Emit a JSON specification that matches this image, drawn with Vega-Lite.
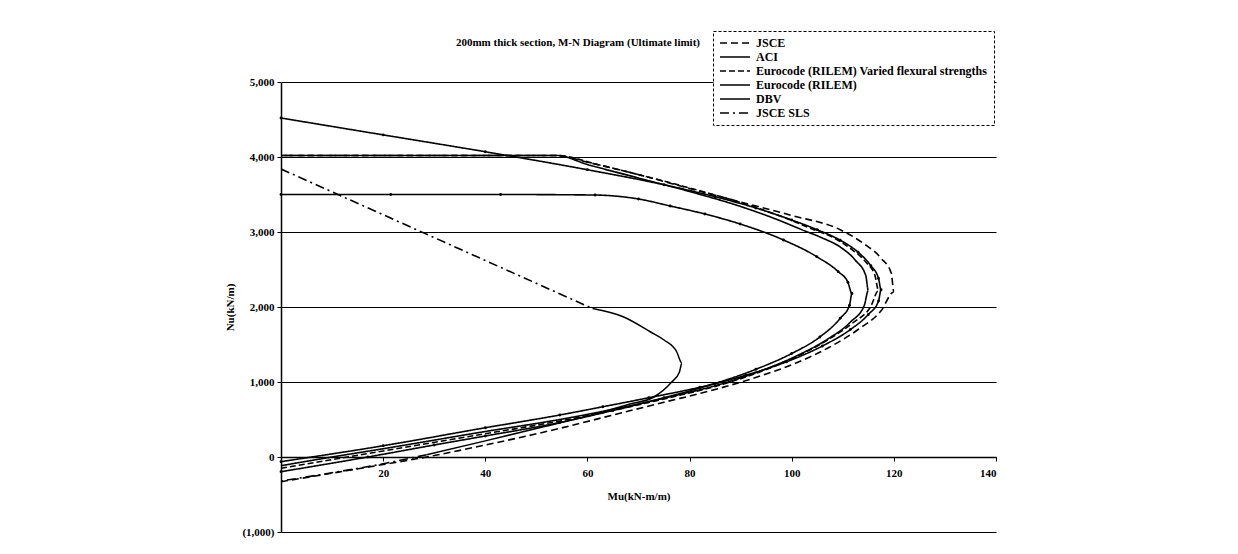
{
  "$schema": "https://vega.github.io/schema/vega-lite/v6.json",
  "autosize": "none",
  "width": 715,
  "height": 450,
  "padding": {"left": 281, "top": 82, "right": 242, "bottom": 22},
  "background": "white",
  "title": {"text": "200mm thick section, M-N Diagram (Ultimate limit)", "anchor": "start", "dx": 231, "offset": 0, "dy": 17, "font": "Liberation Serif", "fontSize": 11, "fontWeight": "bold", "color": "black"},
  "config": {"view": {"stroke": null}, "font": "Liberation Serif"},
  "data": {"values": [
    {"s":"JSCE","p":"JSCE","i":0,"M":0,"N":-330},{"s":"JSCE","p":"JSCE","i":1,"M":10,"N":-215},{"s":"JSCE","p":"JSCE","i":2,"M":20,"N":-100},{"s":"JSCE","p":"JSCE","i":3,"M":28.5,"N":0},{"s":"JSCE","p":"JSCE","i":4,"M":40,"N":160},{"s":"JSCE","p":"JSCE","i":5,"M":54.6,"N":382},{"s":"JSCE","p":"JSCE","i":6,"M":65,"N":560},{"s":"JSCE","p":"JSCE","i":7,"M":75,"N":730},{"s":"JSCE","p":"JSCE","i":8,"M":85,"N":900},{"s":"JSCE","p":"JSCE","i":9,"M":92,"N":1040},{"s":"JSCE","p":"JSCE","i":10,"M":100,"N":1230},{"s":"JSCE","p":"JSCE","i":11,"M":107,"N":1450},{"s":"JSCE","p":"JSCE","i":12,"M":113,"N":1700},{"s":"JSCE","p":"JSCE","i":13,"M":117.5,"N":1950},{"s":"JSCE","p":"JSCE","i":14,"M":120,"N":2200},{"s":"JSCE","p":"JSCE","i":15,"M":119.5,"N":2450},{"s":"JSCE","p":"JSCE","i":16,"M":117.5,"N":2650},{"s":"JSCE","p":"JSCE","i":17,"M":114,"N":2850},{"s":"JSCE","p":"JSCE","i":18,"M":109.5,"N":3030},{"s":"JSCE","p":"JSCE","i":19,"M":100,"N":3220},{"s":"JSCE","p":"JSCE","i":20,"M":90,"N":3400},{"s":"JSCE","p":"JSCE","i":21,"M":80,"N":3580},{"s":"JSCE","p":"JSCE","i":22,"M":70.3,"N":3760},{"s":"JSCE","p":"JSCE","i":23,"M":60,"N":3930},{"s":"JSCE","p":"JSCE","i":24,"M":54,"N":4020},{"s":"JSCE","p":"JSCE","i":25,"M":0,"N":4020},

    {"s":"ACI","p":"ACI","i":0,"M":0,"N":-196},{"s":"ACI","p":"ACI","i":1,"M":17,"N":0},{"s":"ACI","p":"ACI","i":2,"M":30,"N":160},{"s":"ACI","p":"ACI","i":3,"M":40,"N":280},{"s":"ACI","p":"ACI","i":4,"M":54.6,"N":460},{"s":"ACI","p":"ACI","i":5,"M":65,"N":620},{"s":"ACI","p":"ACI","i":6,"M":75,"N":790},{"s":"ACI","p":"ACI","i":7,"M":85,"N":980},{"s":"ACI","p":"ACI","i":8,"M":93,"N":1170},{"s":"ACI","p":"ACI","i":9,"M":100,"N":1380},{"s":"ACI","p":"ACI","i":10,"M":105.5,"N":1600},{"s":"ACI","p":"ACI","i":11,"M":109.5,"N":1850},{"s":"ACI","p":"ACI","i":12,"M":111.3,"N":2020},{"s":"ACI","p":"ACI","i":13,"M":111.8,"N":2180},{"s":"ACI","p":"ACI","i":14,"M":111,"N":2330},{"s":"ACI","p":"ACI","i":15,"M":109.1,"N":2471},{"s":"ACI","p":"ACI","i":16,"M":104.9,"N":2671},{"s":"ACI","p":"ACI","i":17,"M":98.4,"N":2893},{"s":"ACI","p":"ACI","i":18,"M":89.9,"N":3107},{"s":"ACI","p":"ACI","i":19,"M":83,"N":3240},{"s":"ACI","p":"ACI","i":20,"M":76.2,"N":3347},{"s":"ACI","p":"ACI","i":21,"M":70,"N":3440},{"s":"ACI","p":"ACI","i":22,"M":61.5,"N":3493},{"s":"ACI","p":"ACI","i":23,"M":43,"N":3500},{"s":"ACI","p":"ACI","i":24,"M":21.5,"N":3500},{"s":"ACI","p":"ACI","i":25,"M":0,"N":3500},

    {"s":"Eurocode (RILEM) Varied flexural strengths","p":"EV","i":0,"M":0,"N":-151},{"s":"Eurocode (RILEM) Varied flexural strengths","p":"EV","i":1,"M":13,"N":0},{"s":"Eurocode (RILEM) Varied flexural strengths","p":"EV","i":2,"M":20,"N":80},{"s":"Eurocode (RILEM) Varied flexural strengths","p":"EV","i":3,"M":40,"N":310},{"s":"Eurocode (RILEM) Varied flexural strengths","p":"EV","i":4,"M":54.6,"N":480},{"s":"Eurocode (RILEM) Varied flexural strengths","p":"EV","i":5,"M":66,"N":635},{"s":"Eurocode (RILEM) Varied flexural strengths","p":"EV","i":6,"M":76,"N":790},{"s":"Eurocode (RILEM) Varied flexural strengths","p":"EV","i":7,"M":86,"N":960},{"s":"Eurocode (RILEM) Varied flexural strengths","p":"EV","i":8,"M":94,"N":1140},{"s":"Eurocode (RILEM) Varied flexural strengths","p":"EV","i":9,"M":101,"N":1340},{"s":"Eurocode (RILEM) Varied flexural strengths","p":"EV","i":10,"M":107,"N":1560},{"s":"Eurocode (RILEM) Varied flexural strengths","p":"EV","i":11,"M":112,"N":1790},{"s":"Eurocode (RILEM) Varied flexural strengths","p":"EV","i":12,"M":115.5,"N":2010},{"s":"Eurocode (RILEM) Varied flexural strengths","p":"EV","i":13,"M":117,"N":2220},{"s":"Eurocode (RILEM) Varied flexural strengths","p":"EV","i":14,"M":116.3,"N":2420},{"s":"Eurocode (RILEM) Varied flexural strengths","p":"EV","i":15,"M":114.5,"N":2600},{"s":"Eurocode (RILEM) Varied flexural strengths","p":"EV","i":16,"M":111.5,"N":2780},{"s":"Eurocode (RILEM) Varied flexural strengths","p":"EV","i":17,"M":108,"N":2930},{"s":"Eurocode (RILEM) Varied flexural strengths","p":"EV","i":18,"M":104,"N":3040},{"s":"Eurocode (RILEM) Varied flexural strengths","p":"EV","i":19,"M":99,"N":3180},{"s":"Eurocode (RILEM) Varied flexural strengths","p":"EV","i":20,"M":92,"N":3350},{"s":"Eurocode (RILEM) Varied flexural strengths","p":"EV","i":21,"M":82,"N":3550},{"s":"Eurocode (RILEM) Varied flexural strengths","p":"EV","i":22,"M":72,"N":3730},{"s":"Eurocode (RILEM) Varied flexural strengths","p":"EV","i":23,"M":62,"N":3900},{"s":"Eurocode (RILEM) Varied flexural strengths","p":"EV","i":24,"M":54,"N":4020},{"s":"Eurocode (RILEM) Varied flexural strengths","p":"EV","i":25,"M":0,"N":4020},

    {"s":"Eurocode (RILEM)","p":"EU","i":0,"M":0,"N":-116},{"s":"Eurocode (RILEM)","p":"EU","i":1,"M":10,"N":0},{"s":"Eurocode (RILEM)","p":"EU","i":2,"M":20,"N":110},{"s":"Eurocode (RILEM)","p":"EU","i":3,"M":40,"N":340},{"s":"Eurocode (RILEM)","p":"EU","i":4,"M":54.6,"N":500},{"s":"Eurocode (RILEM)","p":"EU","i":5,"M":66,"N":650},{"s":"Eurocode (RILEM)","p":"EU","i":6,"M":76,"N":800},{"s":"Eurocode (RILEM)","p":"EU","i":7,"M":86,"N":970},{"s":"Eurocode (RILEM)","p":"EU","i":8,"M":94,"N":1150},{"s":"Eurocode (RILEM)","p":"EU","i":9,"M":101,"N":1350},{"s":"Eurocode (RILEM)","p":"EU","i":10,"M":107,"N":1570},{"s":"Eurocode (RILEM)","p":"EU","i":11,"M":111.5,"N":1800},{"s":"Eurocode (RILEM)","p":"EU","i":12,"M":114.2,"N":2020},{"s":"Eurocode (RILEM)","p":"EU","i":13,"M":115,"N":2220},{"s":"Eurocode (RILEM)","p":"EU","i":14,"M":114.5,"N":2420},{"s":"Eurocode (RILEM)","p":"EU","i":15,"M":112.5,"N":2620},{"s":"Eurocode (RILEM)","p":"EU","i":16,"M":109.5,"N":2800},{"s":"Eurocode (RILEM)","p":"EU","i":17,"M":106,"N":2920},{"s":"Eurocode (RILEM)","p":"EU","i":18,"M":102,"N":3030},{"s":"Eurocode (RILEM)","p":"EU","i":19,"M":97,"N":3170},{"s":"Eurocode (RILEM)","p":"EU","i":20,"M":90,"N":3340},{"s":"Eurocode (RILEM)","p":"EU","i":21,"M":80,"N":3540},{"s":"Eurocode (RILEM)","p":"EU","i":22,"M":70,"N":3720},{"s":"Eurocode (RILEM)","p":"EU","i":23,"M":60,"N":3900},{"s":"Eurocode (RILEM)","p":"EU","i":24,"M":54,"N":4020},{"s":"Eurocode (RILEM)","p":"EU","i":25,"M":0,"N":4020},

    {"s":"DBV","p":"DBV","i":0,"M":0,"N":-62},{"s":"DBV","p":"DBV","i":1,"M":20,"N":150},{"s":"DBV","p":"DBV","i":2,"M":40,"N":390},{"s":"DBV","p":"DBV","i":3,"M":54.6,"N":560},{"s":"DBV","p":"DBV","i":4,"M":63,"N":670},{"s":"DBV","p":"DBV","i":5,"M":72,"N":790},{"s":"DBV","p":"DBV","i":6,"M":82,"N":930},{"s":"DBV","p":"DBV","i":7,"M":91,"N":1090},{"s":"DBV","p":"DBV","i":8,"M":99,"N":1270},{"s":"DBV","p":"DBV","i":9,"M":106,"N":1480},{"s":"DBV","p":"DBV","i":10,"M":111.5,"N":1700},{"s":"DBV","p":"DBV","i":11,"M":115,"N":1900},{"s":"DBV","p":"DBV","i":12,"M":117,"N":2080},{"s":"DBV","p":"DBV","i":13,"M":117.5,"N":2230},{"s":"DBV","p":"DBV","i":14,"M":117,"N":2380},{"s":"DBV","p":"DBV","i":15,"M":115.5,"N":2550},{"s":"DBV","p":"DBV","i":16,"M":113,"N":2730},{"s":"DBV","p":"DBV","i":17,"M":109.5,"N":2890},{"s":"DBV","p":"DBV","i":18,"M":105,"N":3030},{"s":"DBV","p":"DBV","i":19,"M":100,"N":3160},{"s":"DBV","p":"DBV","i":20,"M":93,"N":3320},{"s":"DBV","p":"DBV","i":21,"M":85,"N":3470},{"s":"DBV","p":"DBV","i":22,"M":75,"N":3630},{"s":"DBV","p":"DBV","i":23,"M":60,"N":3830},{"s":"DBV","p":"DBV","i":24,"M":40,"N":4070},{"s":"DBV","p":"DBV","i":25,"M":20,"N":4295},{"s":"DBV","p":"DBV","i":26,"M":0,"N":4520},

    {"s":"JSCE SLS","p":"SLS1","i":0,"M":0,"N":3840},{"s":"JSCE SLS","p":"SLS1","i":1,"M":61,"N":1980},
    {"s":"JSCE SLS","p":"SLS2","i":0,"M":61,"N":1980},{"s":"JSCE SLS","p":"SLS2","i":1,"M":67,"N":1870},{"s":"JSCE SLS","p":"SLS2","i":2,"M":72.3,"N":1670},{"s":"JSCE SLS","p":"SLS2","i":3,"M":75,"N":1560},{"s":"JSCE SLS","p":"SLS2","i":4,"M":77.5,"N":1400},{"s":"JSCE SLS","p":"SLS2","i":5,"M":78.5,"N":1250},{"s":"JSCE SLS","p":"SLS2","i":6,"M":78,"N":1130},{"s":"JSCE SLS","p":"SLS2","i":7,"M":76.5,"N":1000},{"s":"JSCE SLS","p":"SLS2","i":8,"M":73,"N":800},{"s":"JSCE SLS","p":"SLS2","i":9,"M":68,"N":700},{"s":"JSCE SLS","p":"SLS2","i":10,"M":60,"N":545},{"s":"JSCE SLS","p":"SLS2","i":11,"M":50,"N":380},{"s":"JSCE SLS","p":"SLS2","i":12,"M":40,"N":215},{"s":"JSCE SLS","p":"SLS2","i":13,"M":28.5,"N":30},
    {"s":"JSCE SLS","p":"SLS3","i":0,"M":28.5,"N":30},{"s":"JSCE SLS","p":"SLS3","i":1,"M":20,"N":-90},{"s":"JSCE SLS","p":"SLS3","i":2,"M":10,"N":-210},{"s":"JSCE SLS","p":"SLS3","i":3,"M":0,"N":-320}
  ]},
  "encoding": {
    "x": {"field": "M", "type": "quantitative", "scale": {"domain": [0, 140], "nice": false, "zero": false},
      "axis": {"values": [0,20,40,60,80,100,120,140], "offset": -75, "labelExpr": "datum.value == 0 ? '' : datum.label", "title": "Mu(kN-m/m)", "titleFont": "Liberation Serif", "titleFontSize": 11, "titleFontWeight": "bold", "titleColor": "black", "titlePadding": 12, "labelFont": "Liberation Serif", "labelFontSize": 11, "labelFontWeight": "bold", "labelColor": "black", "domainColor": "black", "domainWidth": 1.5, "tickColor": "black", "tickSize": 4, "labelPadding": 6, "grid": false}},
    "y": {"field": "N", "type": "quantitative", "scale": {"domain": [-1000, 5000], "nice": false, "zero": false},
      "axis": {"values": [-1000,0,1000,2000,3000,4000,5000], "labelExpr": "datum.value < 0 ? '(' + format(-datum.value, ',') + ')' : format(datum.value, ',')", "title": "Nu(kN/m)", "titleFont": "Liberation Serif", "titleFontSize": 11, "titleFontWeight": "bold", "titleColor": "black", "titlePadding": 6, "labelFont": "Liberation Serif", "labelFontSize": 11, "labelFontWeight": "bold", "labelColor": "black", "domainColor": "black", "domainWidth": 1.5, "tickColor": "black", "tickSize": 4, "labelPadding": 3, "grid": true, "gridColor": "black", "gridOpacity": 1, "gridWidth": 1}}
  },
  "layer": [
    {
      "transform": [{"filter": "datum.p != 'SLS2'"}],
      "mark": {"type": "line", "interpolate": "monotone", "clip": true},
      "encoding": {
        "order": {"field": "i", "type": "quantitative"},
        "detail": {"field": "p"},
        "color": {"field": "s", "type": "nominal", "scale": {"domain": ["JSCE","ACI","Eurocode (RILEM) Varied flexural strengths","Eurocode (RILEM)","DBV","JSCE SLS"], "range": ["black","black","black","black","black","black"]},
          "legend": {"orient": "none", "legendX": 432, "legendY": -51, "title": null, "labelFont": "Liberation Serif", "labelFontSize": 12, "labelFontWeight": "bold", "labelColor": "black", "labelLimit": 0, "symbolType": "M-1,0H5", "symbolSize": 100, "symbolStrokeColor": "black", "strokeColor": "black", "fillColor": "white", "padding": 6, "rowPadding": 2, "labelOffset": 25,
            "encode": {"legend": {"update": {"strokeDash": {"value": [3, 2]}}}}}},
        "strokeDash": {"field": "s", "type": "nominal", "scale": {"domain": ["JSCE","ACI","Eurocode (RILEM) Varied flexural strengths","Eurocode (RILEM)","DBV","JSCE SLS"], "range": [[7,4],[1,0],[6,3],[1,0],[1,0],[9,4,2,4]]}},
        "strokeWidth": {"field": "s", "type": "nominal", "scale": {"domain": ["JSCE","ACI","Eurocode (RILEM) Varied flexural strengths","Eurocode (RILEM)","DBV","JSCE SLS"], "range": [1.6,1.6,1.5,1.3,2,2.2]}}
      }
    },
    {
      "transform": [{"filter": "datum.p == 'SLS2'"}],
      "mark": {"type": "line", "interpolate": "monotone", "color": "black", "strokeWidth": 1.5},
      "encoding": {"order": {"field": "i", "type": "quantitative"}}
    },
    {
      "transform": [{"filter": "datum.p == 'ACI' || datum.p == 'DBV'"}],
      "mark": {"type": "point", "filled": true, "color": "black", "size": 8, "opacity": 1},
      "encoding": {}
    }
  ]
}
